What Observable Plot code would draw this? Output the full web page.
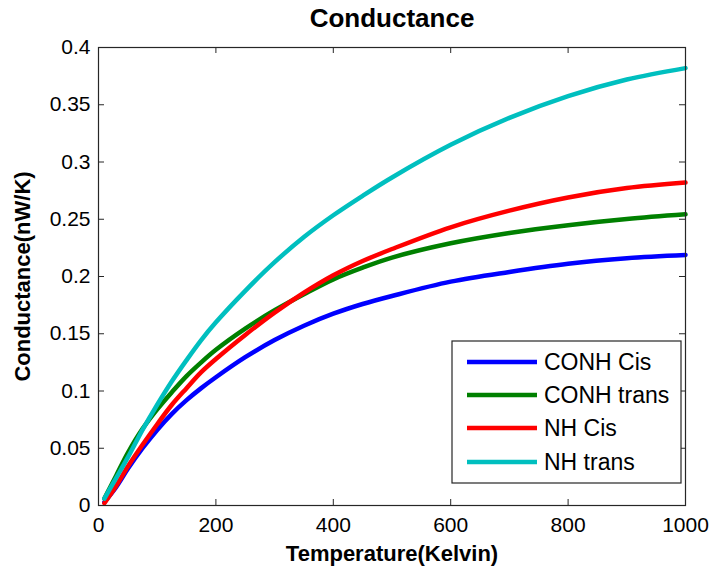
<!DOCTYPE html>
<html>
<head>
<meta charset="utf-8">
<script src="https://cdn.jsdelivr.net/npm/d3@7"></script>
<script src="https://cdn.jsdelivr.net/npm/@observablehq/plot@0.6"></script>
<style>
  html, body { margin: 0; padding: 0; background: #fff; }
  #chart { width: 716px; height: 577px; }
</style>
</head>
<body>
<div id="chart"></div>
<script>
// ---- data ----
const temps     = [10, 30, 50, 75, 100, 125, 150, 175, 200, 250, 300, 350, 400, 450, 500, 600, 700, 800, 900, 1000];
const conhCis   = [0.003, 0.016, 0.032, 0.050, 0.066, 0.080, 0.092, 0.1025, 0.112, 0.1295, 0.1445, 0.157, 0.1675, 0.176, 0.183, 0.1955, 0.204, 0.2112, 0.216, 0.2188];
const conhTrans = [0.006, 0.026, 0.046, 0.067, 0.084, 0.099, 0.113, 0.125, 0.136, 0.1545, 0.1705, 0.1845, 0.1975, 0.2077, 0.2165, 0.229, 0.238, 0.2448, 0.2502, 0.2543];
const nhCis     = [0.002, 0.017, 0.034, 0.053, 0.071, 0.088, 0.1025, 0.1165, 0.128, 0.149, 0.1685, 0.1858, 0.201, 0.2135, 0.224, 0.243, 0.2575, 0.269, 0.2772, 0.282];
const nhTrans   = [0.006, 0.024, 0.042, 0.066, 0.088, 0.1085, 0.127, 0.1445, 0.160, 0.1875, 0.2125, 0.2345, 0.2535, 0.2705, 0.2865, 0.315, 0.3385, 0.3575, 0.372, 0.382];
const seriesNames  = ["CONH Cis", "CONH trans", "NH Cis", "NH trans"];
const seriesColors = ["#0000ff", "#008000", "#ff0000", "#00bfbf"];
const xTicks = [0, 200, 400, 600, 800, 1000];
const yTicks = [0, 0.05, 0.1, 0.15, 0.2, 0.25, 0.3, 0.35, 0.4];
const titleText = "Conductance";
const xLabel = "Temperature(Kelvin)";
const yLabel = "Conductance(nW/K)";

const seriesValues = [conhCis, conhTrans, nhCis, nhTrans];
const rows = [];
seriesNames.forEach((name, i) => {
  temps.forEach((t, j) => rows.push({series: name, T: t, G: seriesValues[i][j]}));
});

const W = 716, H = 577;
const mL = 98, mR = 31, mT = 47, mB = 72;
const plotH = H - mT - mB, plotW = W - mL - mR;
const tickLen = 6;
const axisColor = "#262626";
const fontFam = "'Liberation Sans', Arial, Helvetica, sans-serif";

const svg = Plot.plot({
  width: W, height: H,
  marginLeft: mL, marginRight: mR, marginTop: mT, marginBottom: mB,
  x: {domain: [0, 1000]},
  y: {domain: [0, 0.4]},
  color: {domain: seriesNames, range: seriesColors},
  style: {fontFamily: fontFam, fontSize: "21px", background: "white", color: "#000", overflow: "visible"},
  marks: [
    Plot.line(rows, {x: "T", y: "G", stroke: "series", strokeWidth: 4.5, curve: "catmull-rom"}),
    Plot.ruleX(xTicks, {x: d => d, insetTop: plotH - tickLen, stroke: axisColor}),
    Plot.ruleX(xTicks, {x: d => d, insetBottom: plotH - tickLen, stroke: axisColor}),
    Plot.ruleY(yTicks, {y: d => d, insetRight: plotW - tickLen, stroke: axisColor}),
    Plot.ruleY(yTicks, {y: d => d, insetLeft: plotW - tickLen, stroke: axisColor}),
    Plot.frame({stroke: axisColor, strokeWidth: 1.2}),
    Plot.axisX(xTicks, {tickSize: 0, tickPadding: 12, label: null, fontSize: 21, tickFormat: d => String(d)}),
    Plot.axisY(yTicks, {tickSize: 0, tickPadding: 8, label: null, fontSize: 21, tickFormat: d => String(+d.toFixed(2))}),
    Plot.text([titleText], {frameAnchor: "top", lineAnchor: "middle", dy: -29, fontSize: 26, fontWeight: "bold", text: d => d}),
    Plot.text([xLabel], {frameAnchor: "bottom", lineAnchor: "middle", dy: 48, fontSize: 22, fontWeight: "bold", text: d => d}),
    Plot.text([yLabel], {frameAnchor: "left", textAnchor: "middle", lineAnchor: "middle", dx: -76, rotate: -90, fontSize: 22, fontWeight: "bold", text: d => d})
  ]
});

// legend box inside the axes
const lg = d3.select(svg).append("g").attr("class", "legend");
const box = {x: 452, y: 341, w: 229, h: 142};
lg.append("rect").attr("x", box.x).attr("y", box.y).attr("width", box.w).attr("height", box.h)
  .attr("fill", "white").attr("stroke", axisColor).attr("stroke-width", 1.2);
const rowY = [362, 395, 428, 462];
seriesNames.forEach((name, i) => {
  lg.append("line").attr("x1", 467).attr("x2", 537).attr("y1", rowY[i]).attr("y2", rowY[i])
    .attr("stroke", seriesColors[i]).attr("stroke-width", 4.5);
  lg.append("text").attr("x", 544).attr("y", rowY[i]).attr("dy", "0.35em")
    .attr("text-anchor", "start")
    .attr("font-size", 23).attr("font-family", fontFam).attr("fill", "#000").text(name);
});

document.getElementById("chart").appendChild(svg);
</script>
</body>
</html>
